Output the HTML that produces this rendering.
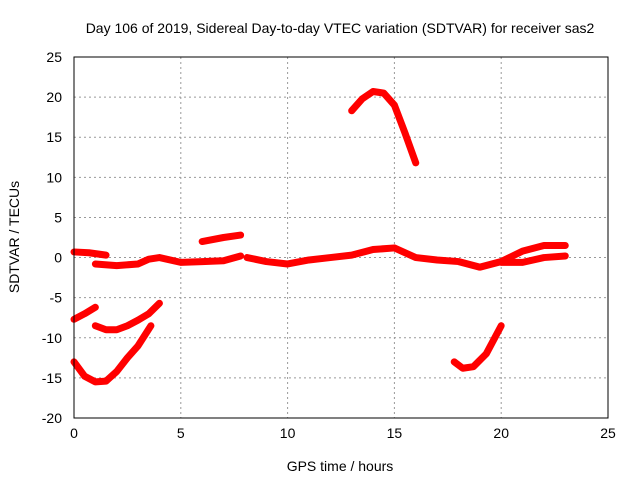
<!DOCTYPE html>
<html><head><meta charset="utf-8"><style>
body{margin:0;background:#fff}
svg{display:block;font-family:"Liberation Sans",sans-serif}
</style></head><body>
<svg id="chart" width="640" height="480">
<text x="340" y="33" font-size="14" text-anchor="middle">Day 106 of 2019, Sidereal Day-to-day VTEC variation (SDTVAR) for receiver sas2</text>
<text x="340" y="471" font-size="14" text-anchor="middle">GPS time / hours</text>
<text x="0" y="0" font-size="14" text-anchor="middle" transform="translate(19,237) rotate(-90)">SDTVAR / TECUs</text>
<g id="grid"></g><g id="marks"></g><g id="axes"></g>
</svg>
<script>
const xTicks=[0,5,10,15,20,25];
const yTicks=[-20,-15,-10,-5,0,5,10,15,20,25];
const seriesA=[[0,0.7],[0.7,0.6],[1.5,0.3]];
const seriesB=[[1,-0.8],[2,-1],[3,-0.8],[3.5,-0.2],[4,0],[5,-0.6],[6,-0.5],[7,-0.4],[7.8,0.2]];
const seriesC=[[6,2],[7,2.5],[7.8,2.8]];
const seriesD=[[8.1,0],[9,-0.5],[10,-0.8],[11,-0.3],[12,0],[13,0.3],[14,1],[15,1.2],[16,0],[17,-0.3],[18,-0.5],[19,-1.2],[20,-0.5],[21,0.8],[22,1.5],[23,1.5]];
const seriesE=[[20,-0.6],[21,-0.6],[22,0],[23,0.2]];
const seriesF=[[13,18.3],[13.5,19.8],[14,20.7],[14.5,20.5],[15,19],[15.5,15.5],[16,11.8]];
const seriesG=[[0,-7.7],[0.5,-7],[1,-6.2]];
const seriesH=[[1,-8.5],[1.5,-9],[2,-9],[2.5,-8.5],[3,-7.8],[3.5,-7],[4,-5.7]];
const seriesI=[[0,-13],[0.5,-14.8],[1,-15.5],[1.5,-15.4],[2,-14.2],[2.5,-12.5],[3,-11],[3.6,-8.5]];
const seriesJ=[[17.8,-13],[18.2,-13.8],[18.7,-13.6],[19.3,-12],[19.8,-9.5],[20,-8.5]];
const NS="http://www.w3.org/2000/svg";
const L=74,R=608,T=57,B=418;
const xs=v=>L+(v-0)/25*(R-L);
const ys=v=>B-(v+20)/45*(B-T);
const grid=document.getElementById('grid'),axes=document.getElementById('axes'),marks=document.getElementById('marks');
function mk(t,a,p){const e=document.createElementNS(NS,t);for(const k in a)e.setAttribute(k,a[k]);p.appendChild(e);return e;}
xTicks.forEach(v=>{
 const g=mk('line',{x1:xs(v),x2:xs(v),y1:T,y2:B,stroke:'#999','stroke-dasharray':'2,3'},grid);
 
 
 const t=mk('text',{x:xs(v),y:B+20,'font-size':14,'text-anchor':'middle'},axes);t.textContent=v;
 
 
});
yTicks.forEach(v=>{
 const g=mk('line',{x1:L,x2:R,y1:ys(v),y2:ys(v),stroke:'#999','stroke-dasharray':'2,3'},grid);
 
 
 const t=mk('text',{x:L-12,y:ys(v)+5,'font-size':14,'text-anchor':'end'},axes);t.textContent=v;
 
 
});
const fr=mk('rect',{x:L,y:T,width:R-L,height:B-T,fill:'none',stroke:'#000'},axes);


[seriesA,seriesB,seriesC,seriesD,seriesE,seriesF,seriesG,seriesH,seriesI,seriesJ].forEach((s,i)=>{
 const p=mk('polyline',{points:s.map(d=>xs(d[0])+','+ys(d[1])).join(' '),fill:'none',stroke:'#f00','stroke-width':7,'stroke-linejoin':'round','stroke-linecap':'round'},marks);
 
 
});
</script>
</body></html>
